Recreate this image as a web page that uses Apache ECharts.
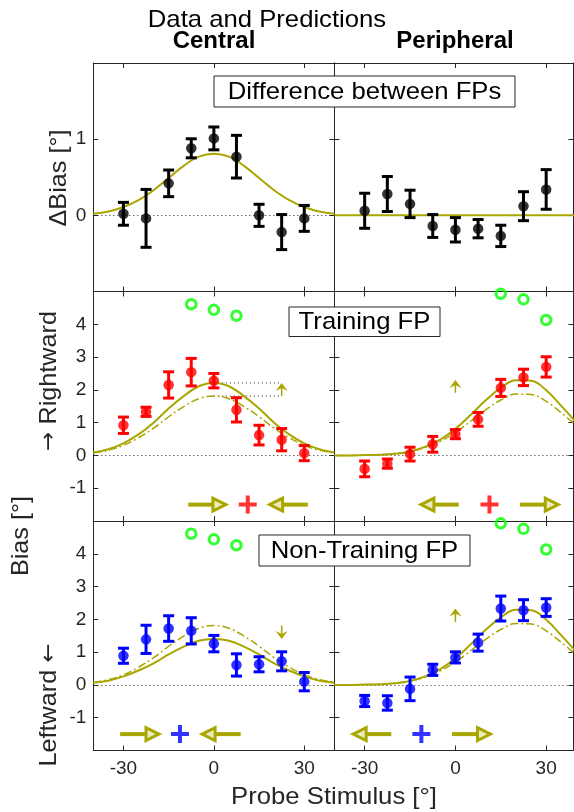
<!DOCTYPE html>
<html><head><meta charset="utf-8">
<script src="https://cdn.jsdelivr.net/npm/echarts@6/dist/echarts.min.js"></script>
<style>html,body{margin:0;padding:0;background:#fff}#c{width:574px;height:812px}</style>
</head><body><div id="c"></div>
<script>
// ---------------- data ----------------
const probeX = [-30, -22.5, -15, -7.5, 0, 7.5, 15, 22.5, 30];
const xTicks = [-30, 0, 30];
const yTicksDiff = [0, 1];
const yTicksBias = [-1, 0, 1, 2, 3, 4];

const diffCentral = [0.02, -0.04, 0.42, 0.88, 1.01, 0.77, 0.00, -0.22, -0.04];
const diffCentralErr = [0.15, 0.38, 0.175, 0.125, 0.15, 0.28, 0.145, 0.23, 0.17];
const diffPeripheral = [0.06, 0.28, 0.15, -0.14, -0.19, -0.175, -0.27, 0.12, 0.34];
const diffPeripheralErr = [0.23, 0.23, 0.18, 0.15, 0.16, 0.12, 0.14, 0.19, 0.26];

const trainCentral = [0.92, 1.33, 2.15, 2.54, 2.28, 1.39, 0.62, 0.48, 0.07];
const trainCentralErr = [0.25, 0.14, 0.40, 0.42, 0.22, 0.37, 0.30, 0.34, 0.23];
const trainPeripheral = [-0.41, -0.25, 0.04, 0.34, 0.65, 1.10, 2.06, 2.38, 2.70];
const trainPeripheralErr = [0.24, 0.14, 0.21, 0.24, 0.14, 0.21, 0.26, 0.25, 0.31];

const nonTrainCentral = [0.89, 1.39, 1.72, 1.65, 1.26, 0.61, 0.63, 0.72, 0.10];
const nonTrainCentralErr = [0.23, 0.43, 0.39, 0.40, 0.25, 0.34, 0.23, 0.29, 0.28];
const nonTrainPeripheral = [-0.49, -0.55, -0.12, 0.46, 0.84, 1.29, 2.33, 2.28, 2.36];
const nonTrainPeripheralErr = [0.17, 0.22, 0.36, 0.17, 0.17, 0.26, 0.38, 0.32, 0.27];

const refCentralX = [-7.5, 0, 7.5];
const refCentralY = [4.61, 4.44, 4.26];
const refPeripheralX = [15, 22.5, 30];
const refPeripheralY = [4.93, 4.76, 4.13];

const curveX = [-40, -35, -30, -25, -20, -15, -10, -5, 0, 5, 10, 15, 20, 25, 30, 35, 40];
const diffCentralModel = [0.02, 0.05, 0.11, 0.20, 0.33, 0.49, 0.65, 0.77, 0.81, 0.77, 0.65, 0.49, 0.33, 0.20, 0.11, 0.05, 0.02];
const diffPeripheralModel = [0, 0, 0, 0, 0, 0, 0, 0, 0, 0, 0, 0, 0, 0, 0, 0, 0];
const trainCentralModel = [0.09, 0.19, 0.37, 0.64, 1.00, 1.43, 1.81, 2.11, 2.22, 2.11, 1.81, 1.43, 1.00, 0.64, 0.37, 0.19, 0.09];
const nonTrainCentralModel = [0.07, 0.13, 0.26, 0.44, 0.66, 0.93, 1.17, 1.35, 1.40, 1.35, 1.17, 0.93, 0.66, 0.44, 0.26, 0.13, 0.07];
const commonCentralModel = [0.08, 0.16, 0.31, 0.54, 0.83, 1.18, 1.49, 1.73, 1.81, 1.73, 1.49, 1.18, 0.83, 0.54, 0.31, 0.16, 0.08];
const peripheralModel = [0.00, 0.00, 0.01, 0.02, 0.05, 0.12, 0.26, 0.48, 0.81, 1.23, 1.68, 2.06, 2.29, 2.28, 1.99, 1.51, 1.00];
const commonPeripheralModel = [0.00, 0.00, 0.01, 0.02, 0.06, 0.12, 0.24, 0.43, 0.70, 1.04, 1.39, 1.69, 1.87, 1.86, 1.65, 1.30, 0.91];

// arrows: [xStart, xEnd, y]
const bigArrowsTrainCentral = [[-8.5, 4.0, -1.5], [31.2, 18.5, -1.5]];
const bigArrowsTrainPeripheral = [[1.1, -11.4, -1.5], [21.3, 34.0, -1.5]];
const bigArrowsNonTrainCentral = [[-31.1, -18.2, -1.5], [8.9, -3.9, -1.5]];
const bigArrowsNonTrainPeripheral = [[-21.2, -33.8, -1.5], [-1.1, 11.6, -1.5]];
const fixationTrain = [[11.25, -1.5]];
const fixationNonTrain = [[-11.25, -1.5]];
// small arrows: [x, yFrom, yTo]
const smallArrowTrainCentral = [[22.5, 1.81, 2.21]];
const smallArrowTrainPeripheral = [[0, 1.91, 2.30]];
const smallArrowNonTrainCentral = [[22.5, 1.81, 1.40]];
const smallArrowNonTrainPeripheral = [[0, 1.92, 2.33]];
// dotted reference lines: [xStart, xEnd, y]
const refLinesTrainCentral = [[0, 22.5, 2.21], [0, 22.5, 1.81]];

// ---------------- style ----------------
const OLIVE = '#A9A600';
const AX = '#262626';
const FONT = '"Liberation Sans", Arial, sans-serif';
const RED = '#FF0000', BLUE = '#0000FF', GREEN = '#00FF00';

const rows = [{top: 63, height: 228.5}, {top: 291.5, height: 229.5}, {top: 521, height: 229.5}];
const cols = [{left: 93.3, width: 241.1, max: 40}, {left: 334.4, width: 239, max: 39}];

const grids = [], xAxes = [], yAxes = [];
for (let r = 0; r < 3; r++) {
  for (let c = 0; c < 2; c++) {
    const gi = grids.length;
    grids.push({left: cols[c].left, width: cols[c].width, top: rows[r].top, height: rows[r].height, containLabel: false});
    const yt = r === 0 ? yTicksDiff : yTicksBias;
    const ymin = r === 0 ? -1 : -2, ymax = r === 0 ? 2 : 5;
    ['bottom', 'top'].forEach(function (pos) {
      xAxes.push({
        gridIndex: gi, type: 'value', min: -40, max: cols[c].max, position: pos,
        axisLine: {show: true, onZero: false, lineStyle: {color: AX, width: 1}},
        axisTick: {show: true, inside: true, length: 5, customValues: xTicks, lineStyle: {color: AX, width: 1}},
        axisLabel: {show: pos === 'bottom' && r === 2, customValues: xTicks, margin: 9, fontSize: 19, color: AX, fontFamily: FONT},
        splitLine: {show: false}
      });
    });
    ['left', 'right'].forEach(function (pos) {
      yAxes.push({
        gridIndex: gi, type: 'value', min: ymin, max: ymax, position: pos,
        axisLine: {show: true, onZero: false, lineStyle: {color: AX, width: 1}},
        axisTick: {show: true, inside: true, length: 5, customValues: yt, lineStyle: {color: AX, width: 1}},
        axisLabel: {show: pos === 'left' && c === 0, customValues: yt, margin: 7, fontSize: 19, color: AX, fontFamily: FONT},
        splitLine: {show: false}
      });
    });
  }
}

function pairs(xs, ys) { return xs.map(function (x, i) { return [x, ys[i]]; }); }
function errData(vals, errs) { return probeX.map(function (x, i) { return [x, vals[i] - errs[i], vals[i] + errs[i]]; }); }

function errRender(color) {
  return function (params, api) {
    const x = api.value(0);
    const a = api.coord([x, api.value(2)]), b = api.coord([x, api.value(1)]);
    const w = 5.5;
    const st = {stroke: color, lineWidth: 3, fill: null};
    return {type: 'group', children: [
      {type: 'line', shape: {x1: a[0], y1: a[1], x2: b[0], y2: b[1]}, style: st},
      {type: 'line', shape: {x1: a[0] - w, y1: a[1], x2: a[0] + w, y2: a[1]}, style: st},
      {type: 'line', shape: {x1: b[0] - w, y1: b[1], x2: b[0] + w, y2: b[1]}, style: st}
    ]};
  };
}
function bigArrowRender(params, api) {
  const y = api.value(2);
  const a = api.coord([api.value(0), y]), b = api.coord([api.value(1), y]);
  const d = b[0] > a[0] ? 1 : -1;
  const L = 13, H = 6.5;
  const base = b[0] - d * L;
  return {type: 'group', children: [
    {type: 'line', shape: {x1: a[0], y1: a[1], x2: base, y2: b[1]}, style: {stroke: OLIVE, lineWidth: 4}},
    {type: 'polygon', shape: {points: [[b[0], b[1]], [base, b[1] - H], [base, b[1] + H]]},
      style: {fill: '#ECEBC0', stroke: OLIVE, lineWidth: 3, lineJoin: 'miter'}}
  ]};
}
function smallArrowRender(params, api) {
  const x = api.value(0);
  const a = api.coord([x, api.value(1)]), b = api.coord([x, api.value(2)]);
  const d = b[1] > a[1] ? 1 : -1;
  const L = 8, H = 6, N = 3;
  return {type: 'group', children: [
    {type: 'line', shape: {x1: a[0], y1: a[1], x2: b[0], y2: b[1] - d * N}, style: {stroke: OLIVE, lineWidth: 1.5}},
    {type: 'polygon', shape: {points: [[b[0], b[1]], [b[0] - H, b[1] - d * L], [b[0], b[1] - d * (L - N)], [b[0] + H, b[1] - d * L]]},
      style: {fill: OLIVE}}
  ]};
}
function refLineRender(params, api) {
  const y = api.value(2);
  const a = api.coord([api.value(0), y]), b = api.coord([api.value(1), y]);
  return {type: 'line', shape: {x1: a[0], y1: a[1], x2: b[0], y2: b[1]}, style: {stroke: AX, lineWidth: 1, lineDash: [1, 3]}};
}

const series = [];
function axisIdx(gi) { return {xAxisIndex: gi * 2, yAxisIndex: gi * 2}; }
function addCurve(gi, ys, dashed, withZero) {
  const s = Object.assign({
    type: 'line', data: pairs(curveX, ys), smooth: 0.4, showSymbol: false, symbol: 'none', z: 2, silent: true,
    lineStyle: dashed ? {color: OLIVE, width: 1.5, type: [8, 3, 2, 3]} : {color: OLIVE, width: 2}
  }, axisIdx(gi));
  if (withZero) {
    s.markLine = {silent: true, symbol: 'none', label: {show: false}, z: 1,
      lineStyle: {color: AX, width: 1, type: [1, 3]}, data: [{yAxis: 0}]};
  }
  series.push(s);
}
function addData(gi, vals, errs, color) {
  series.push(Object.assign({type: 'custom', renderItem: errRender(color), data: errData(vals, errs), encode: {x: 0, y: [1, 2]}, z: 3, silent: true}, axisIdx(gi)));
  series.push(Object.assign({type: 'scatter', data: pairs(probeX, vals), symbol: 'circle', symbolSize: 10.5, itemStyle: {color: color}, z: 4, silent: true}, axisIdx(gi)));
}
function addRef(gi, xs, ys) {
  series.push(Object.assign({type: 'scatter', data: pairs(xs, ys), symbol: 'circle', symbolSize: 9.5, clip: false,
    itemStyle: {color: 'rgba(0,0,0,0)', borderColor: GREEN, borderWidth: 3}, z: 4, silent: true}, axisIdx(gi)));
}
function addArrows(gi, arrows, fix, fixColor, small) {
  series.push(Object.assign({type: 'custom', renderItem: bigArrowRender, data: arrows, encode: {x: [0, 1], y: 2}, z: 3, silent: true}, axisIdx(gi)));
  series.push(Object.assign({type: 'scatter', data: fix, symbol: 'path://M7,0H11V7H18V11H11V18H7V11H0V7H7Z', symbolSize: 18,
    itemStyle: {color: fixColor}, z: 4, silent: true}, axisIdx(gi)));
  series.push(Object.assign({type: 'custom', renderItem: smallArrowRender, data: small, encode: {x: 0, y: [1, 2]}, z: 3, silent: true}, axisIdx(gi)));
}

// top row
addCurve(0, diffCentralModel, false, true);
addData(0, diffCentral, diffCentralErr, '#000000');
addCurve(1, diffPeripheralModel, false, true);
addData(1, diffPeripheral, diffPeripheralErr, '#000000');
// middle row
addCurve(2, commonCentralModel, true, true);
addCurve(2, trainCentralModel, false, false);
series.push(Object.assign({type: 'custom', renderItem: refLineRender, data: refLinesTrainCentral, encode: {x: [0, 1], y: 2}, z: 2, silent: true}, axisIdx(2)));
addArrows(2, bigArrowsTrainCentral, fixationTrain, RED, smallArrowTrainCentral);
addData(2, trainCentral, trainCentralErr, RED);
addRef(2, refCentralX, refCentralY);
addCurve(3, commonPeripheralModel, true, true);
addCurve(3, peripheralModel, false, false);
addArrows(3, bigArrowsTrainPeripheral, fixationTrain, RED, smallArrowTrainPeripheral);
addData(3, trainPeripheral, trainPeripheralErr, RED);
addRef(3, refPeripheralX, refPeripheralY);
// bottom row
addCurve(4, commonCentralModel, true, true);
addCurve(4, nonTrainCentralModel, false, false);
addArrows(4, bigArrowsNonTrainCentral, fixationNonTrain, BLUE, smallArrowNonTrainCentral);
addData(4, nonTrainCentral, nonTrainCentralErr, BLUE);
addRef(4, refCentralX, refCentralY);
addCurve(5, commonPeripheralModel, true, true);
addCurve(5, peripheralModel, false, false);
addArrows(5, bigArrowsNonTrainPeripheral, fixationNonTrain, BLUE, smallArrowNonTrainPeripheral);
addData(5, nonTrainPeripheral, nonTrainPeripheralErr, BLUE);
addRef(5, refPeripheralX, refPeripheralY);

function txt(t, x, y, opts) {
  opts = opts || {};
  const style = {text: t, textAlign: 'center', textVerticalAlign: 'middle', fill: opts.color || AX,
    font: (opts.weight || 'normal') + ' ' + (opts.size || 24) + 'px ' + FONT};
  if (opts.rich) style.rich = opts.rich;
  return {type: 'text', x: x, y: y, rotation: opts.rot || 0, scaleX: opts.sx || 1, z: 20, style: style};
}
const arrowRich = {a: {fontFamily: '"DejaVu Sans"', fontSize: 22, fill: AX, textFill: AX, color: AX},
                   b: {fontFamily: FONT, fontSize: 24, fill: AX, textFill: AX, color: AX}};
function box(x, y, w, h, t) {
  return [
    {type: 'rect', shape: {x: x, y: y, width: w, height: h}, z: 19, style: {fill: '#ffffff', stroke: AX, lineWidth: 1}},
    txt(t, x + w / 2, y + h / 2 + 1, {sx: 1.07, color: '#000'})
  ];
}
const graphics = [].concat(
  [txt('Data and Predictions', 267, 20, {sx: 1.07, color: '#000'}),
   txt('Central', 214, 41, {weight: 'bold', color: '#000'}),
   txt('Peripheral', 455, 41, {weight: 'bold', color: '#000'}),
   txt('\u0394Bias [\u00b0]', 59, 178, {rot: Math.PI / 2, sx: 1.05}),
   txt('Bias [\u00b0]', 21, 536, {rot: Math.PI / 2, sx: 1.05}),
   txt('{a|\u2192} {b|Rightward}', 49, 381, {rot: Math.PI / 2, sx: 1.05, rich: arrowRich}),
   txt('{b|Leftward} {a|\u2190}', 49, 705, {rot: Math.PI / 2, sx: 1.05, rich: arrowRich}),
   txt('Probe Stimulus [\u00b0]', 334, 797, {sx: 1.07})],
  box(214, 76, 301, 31, 'Difference between FPs'),
  box(289, 307, 151, 29.5, 'Training FP'),
  box(259, 535, 211, 31, 'Non-Training FP')
);

const chart = echarts.init(document.getElementById('c'), null, {renderer: 'canvas'});
chart.setOption({
  animation: false,
  backgroundColor: '#ffffff',
  grid: grids, xAxis: xAxes, yAxis: yAxes,
  series: series,
  graphic: {elements: graphics}
});
</script></body></html>
